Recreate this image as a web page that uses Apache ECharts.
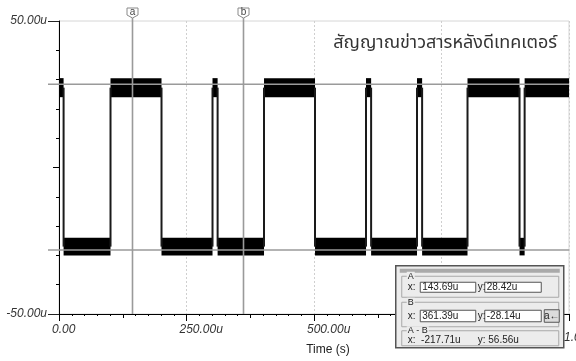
<!DOCTYPE html>
<html>
<head>
<meta charset="utf-8">
<script src="https://cdn.jsdelivr.net/npm/echarts@6/dist/echarts.min.js"></script>
<style>
  html, body { margin: 0; padding: 0; background: #fff; }
  #chart { width: 576px; height: 361px; }
</style>
</head>
<body>
<div id="chart"></div>
<script>
// Detector output: a bit stream switching between two noisy levels.
// Time in microseconds, amplitude in microvolts.
const edgeTimes = [9, 101, 201, 301, 311, 402, 502, 602, 612, 702, 712, 801, 903, 913];
const startsHigh = true;
const timeSpan = [0, 1000];
const highBand = [24, 30.5];
const lowBand = [-30, -24];

// Measurement cursors
const cursorNames = ['a', 'b'];
const cursorX = [143.69, 361.39];
const cursorY = [28.42, -28.14];
const cursorXText = ['143.69u', '361.39u'];
const cursorYText = ['28.42u', '-28.14u'];
const deltaXText = '-217.71u';
const deltaYText = '56.56u';

// Axis labels
const xTickValues = [0, 250, 500, 750, 1000];
const xTickLabels = ['0.00', '250.00u', '500.00u', '750.00u', '1.00m'];
const yTickValues = [-50, 50];
const yTickLabels = ['-50.00u', '50.00u'];
const xAxisTitle = 'Time (s)';
const chartTitle = 'สัญญาณข่าวสารหลังดีเทคเตอร์';

// Level segments between edges: [start, end, bandLow, bandHigh]
const bounds = [timeSpan[0], ...edgeTimes, timeSpan[1]];
const segments = [];
for (let i = 0; i < bounds.length - 1; i++) {
  const high = (i % 2 === 0) === startsHigh;
  const band = high ? highBand : lowBand;
  segments.push([bounds[i], bounds[i + 1], band[0], band[1]]);
}
const highMid = (highBand[0] + highBand[1]) / 2;
const lowMid = (lowBand[0] + lowBand[1]) / 2;
const edges = edgeTimes.map(t => [t, highMid, lowMid]);
const cursors = cursorX.map((x, i) => [x, cursorY[i]]);

const labelFont = '"Liberation Sans", Arial, sans-serif';
const uiFont = '"Liberation Sans", Arial, sans-serif';
const lastTick = xTickValues[xTickValues.length - 1];

function labelFor(values, labels, skip) {
  return v => {
    if (skip !== undefined && Math.abs(v - skip) < 1e-6) return '';
    const i = values.findIndex(t => Math.abs(t - v) < 1e-6);
    return i >= 0 ? labels[i] : '';
  };
}

const chart = echarts.init(document.getElementById('chart'), null, { renderer: 'canvas' });

// Cursor readout panel (A, B and A-B), drawn on its own layer above the axes
const PANEL_LAYER = 1;
function txt(x, y, text, extra) {
  return { type: 'text', x: x, y: y, zlevel: PANEL_LAYER, z: 30,
    style: Object.assign({ text: text, font: '10px ' + uiFont, fill: '#222', verticalAlign: 'middle' }, extra || {}) };
}
function box(x, y, w, h, style) {
  return { type: 'rect', zlevel: PANEL_LAYER, z: 20, shape: { x: x, y: y, width: w, height: h }, style: style };
}
function field(x, y, w, h, text) {
  return [
    box(x, y, w, h, { fill: '#fff', stroke: '#555', lineWidth: 1 }),
    txt(x + 2, y + h / 2, text)
  ];
}
function frame(y, h, legend) {
  return [
    box(6, y, 157, h, { fill: 'none', stroke: '#a8a8a8', lineWidth: 1 }),
    txt(11, y, legend, { font: '9px ' + uiFont, backgroundColor: '#ececec', padding: [0, 1] })
  ];
}
const panelChildren = [
  box(0, 0, 168, 82, { fill: '#ececec', stroke: '#555', lineWidth: 1.5 }),
  box(4, 3, 160, 4, { fill: '#aaa' }),
  ...frame(10.5, 21, 'A'),
  txt(12, 21.5, 'x:'),
  ...field(24.5, 16.5, 55.5, 10, cursorXText[0]),
  txt(82, 21.5, 'y:'),
  ...field(89, 16.5, 56.5, 10, cursorYText[0]),
  ...frame(36.5, 24.5, 'B'),
  txt(12, 50, 'x:'),
  ...field(24.5, 44.5, 55.5, 11.5, cursorXText[1]),
  txt(82, 50, 'y:'),
  ...field(89, 44.5, 56.5, 11.5, cursorYText[1]),
  box(148.5, 44, 15, 12.5, { fill: '#dcdcdc', stroke: '#555', lineWidth: 1 }),
  txt(156, 50.5, 'a←', { align: 'center' }),
  ...frame(65, 15, 'A - B'),
  txt(12, 74.5, 'x:  ' + deltaXText),
  txt(82, 74.5, 'y: ' + deltaYText)
];

const option = {
  animation: false,
  backgroundColor: '#fff',
  grid: [
    { left: 59, top: 21, width: 510, height: 293, show: true,
      borderColor: '#d6d6d6', borderWidth: 1, backgroundColor: 'transparent' },
    { left: 52, top: 21, width: 510, height: 293, show: false }
  ],
  xAxis: [
    { // axis line with 125 µs ticks and 25 µs minor ticks
      gridIndex: 0, type: 'value', position: 'bottom', min: timeSpan[0], max: timeSpan[1], interval: 125,
      axisLine: { show: true, onZero: false, lineStyle: { color: '#000', width: 1 } },
      axisTick: { show: true, length: 4, lineStyle: { color: '#000' } },
      minorTick: { show: true, splitNumber: 5, length: 2, lineStyle: { color: '#000' } },
      axisLabel: { show: false }, splitLine: { show: false }
    },
    { // 250 µs major ticks and dotted grid
      gridIndex: 0, type: 'value', position: 'bottom', min: timeSpan[0], max: timeSpan[1], interval: 250,
      axisLine: { show: false, onZero: false },
      axisTick: { show: true, length: 7, lineStyle: { color: '#000' } },
      axisLabel: { show: false },
      splitLine: { show: true, lineStyle: { color: '#cfcfcf', type: [2, 2], width: 1 } }
    },
    { // tick labels, set slightly left of their ticks
      gridIndex: 1, type: 'value', position: 'bottom', min: timeSpan[0], max: timeSpan[1], interval: 250,
      axisLine: { show: false, onZero: false }, axisTick: { show: false }, splitLine: { show: false },
      axisLabel: { show: true, align: 'left', alignMinLabel: 'left',
                   margin: 18, fontSize: 12, fontStyle: 'italic',
                   fontFamily: labelFont, color: '#333', showMinLabel: true, showMaxLabel: false,
                   hideOverlap: false, formatter: labelFor(xTickValues, xTickLabels, lastTick) },
      name: xAxisTitle, nameLocation: 'middle', nameGap: 38,
      nameTextStyle: { fontSize: 12, fontFamily: labelFont, color: '#222', padding: [0, 0, 0, 42] }
    }
  ],
  yAxis: [
    { gridIndex: 0, type: 'value', position: 'left', min: -50, max: 50, interval: 10,
      axisLine: { show: true, onZero: false, lineStyle: { color: '#000', width: 1 } },
      axisTick: { show: true, length: 3, lineStyle: { color: '#000' } },
      axisLabel: { show: false }, splitLine: { show: false }
    },
    { gridIndex: 0, type: 'value', position: 'left', min: -50, max: 50, interval: 50,
      axisLine: { show: false, onZero: false },
      axisTick: { show: true, length: 6, lineStyle: { color: '#000' } },
      axisLabel: { show: false }, splitLine: { show: false }
    },
    { gridIndex: 0, type: 'value', position: 'left', min: -50, max: 50, interval: 50,
      axisLine: { show: false, onZero: false },
      axisTick: { show: true, length: 11, customValues: yTickValues, lineStyle: { color: '#222' } },
      axisLabel: { show: true, customValues: yTickValues, margin: 12, fontSize: 12, fontStyle: 'italic',
                   fontFamily: labelFont, color: '#333', formatter: labelFor(yTickValues, yTickLabels) },
      splitLine: { show: false }
    },
    { // companion axis for the label grid, not drawn
      gridIndex: 1, type: 'value', position: 'left', min: -50, max: 50, show: false
    }
  ],
  series: [
    { // noisy level bands
      type: 'custom', xAxisIndex: 0, yAxisIndex: 0, z: 3, clip: true,
      encode: { x: [0, 1], y: [2, 3] },
      data: segments,
      renderItem: (params, api) => {
        const p0 = api.coord([api.value(0), api.value(3)]);
        const p1 = api.coord([api.value(1), api.value(2)]);
        return { type: 'rect',
          shape: { x: p0[0], y: p0[1], width: p1[0] - p0[0], height: p1[1] - p0[1] },
          style: { fill: '#000' } };
      }
    },
    { // transitions between levels
      type: 'custom', xAxisIndex: 0, yAxisIndex: 0, z: 3, clip: true,
      encode: { x: 0, y: [1, 2] },
      data: edges,
      renderItem: (params, api) => {
        const a = api.coord([api.value(0), api.value(1)]);
        const b = api.coord([api.value(0), api.value(2)]);
        return { type: 'line', shape: { x1: a[0], y1: a[1], x2: b[0], y2: b[1] },
          style: { stroke: '#1a1a1a', lineWidth: 2 } };
      }
    },
    { // measurement cursors
      type: 'custom', xAxisIndex: 0, yAxisIndex: 0, z: 6, clip: false,
      encode: { x: 0, y: 1 },
      data: cursors,
      renderItem: (params, api) => {
        const cs = params.coordSys;
        const p = api.coord([api.value(0), api.value(1)]);
        const cx = Math.round(p[0]) + 0.5;
        const cy = p[1];
        const tagTop = cs.y - 13;
        return { type: 'group', children: [
          { type: 'line', shape: { x1: cx, y1: tagTop + 10, x2: cx, y2: cs.y + cs.height },
            style: { stroke: '#9a9a9a', lineWidth: 1.6 } },
          { type: 'line', shape: { x1: cs.x - 11, y1: cy, x2: cs.x + cs.width, y2: cy },
            style: { stroke: '#9a9a9a', lineWidth: 1.6 } },
          { type: 'polygon',
            shape: { points: [[cx - 5.5, tagTop], [cx + 5.5, tagTop], [cx + 5.5, tagTop + 7],
                              [cx, tagTop + 10], [cx - 5.5, tagTop + 7]] },
            style: { fill: '#fff', stroke: '#8a8a8a', lineWidth: 1 } },
          { type: 'text', x: cx, y: tagTop + 4.5,
            style: { text: cursorNames[params.dataIndex], font: '10px ' + uiFont, fill: '#444',
                     align: 'center', verticalAlign: 'middle' } }
        ] };
      }
    }
  ],
  graphic: [
    { type: 'text', right: 19, top: 35, z: 10,
      style: { text: chartTitle, font: '18px Tahoma, "Noto Sans Thai", "DejaVu Sans", sans-serif', fill: '#333' } },
    { type: 'group', left: 395, top: 265, zlevel: PANEL_LAYER, z: 20, children: panelChildren }
  ]
};

chart.setOption(option);

// The last tick label runs past the right edge of the chart; place it from the axis scale.
const lastPos = chart.convertToPixel({ xAxisIndex: 0, yAxisIndex: 0 }, [lastTick, -50]);
chart.setOption({
  graphic: [
    { type: 'text', id: 'lastTickLabel', x: lastPos[0] - 5, y: lastPos[1] + 18, z: 5,
      style: { text: xTickLabels[xTickLabels.length - 1], font: 'italic 12px ' + labelFont,
               fill: '#333', verticalAlign: 'top' } }
  ]
});
</script>
</body>
</html>
